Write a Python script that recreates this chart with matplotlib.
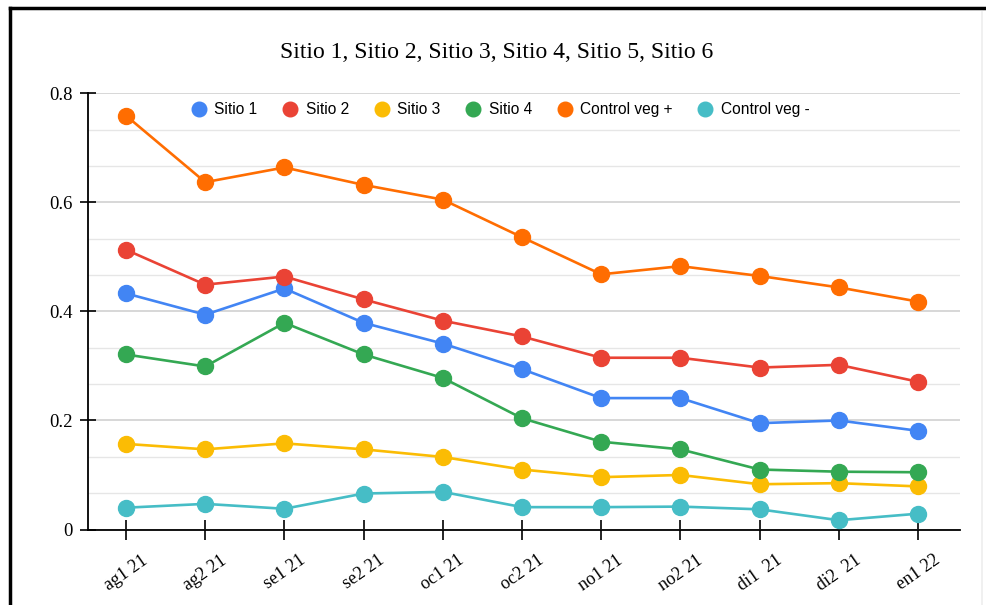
import matplotlib.pyplot as plt
import numpy as np
from matplotlib.lines import Line2D

# fechas de muestreo
fechas = ['ag1 21', 'ag2 21', 'se1 21', 'se2 21', 'oc1 21', 'oc2 21',
          'no1 21', 'no2 21', 'di1  21', 'di2  21', 'en1 22']

sitio1 = [0.433, 0.394, 0.442, 0.379, 0.341, 0.294, 0.241, 0.241, 0.195, 0.200, 0.181]
sitio2 = [0.513, 0.449, 0.464, 0.422, 0.383, 0.354, 0.315, 0.315, 0.297, 0.302, 0.271]
sitio3 = [0.157, 0.147, 0.158, 0.147, 0.133, 0.110, 0.096, 0.100, 0.083, 0.085, 0.079]
sitio4 = [0.321, 0.299, 0.379, 0.321, 0.278, 0.204, 0.161, 0.147, 0.110, 0.106, 0.105]
control_pos = [0.759, 0.637, 0.664, 0.632, 0.605, 0.536, 0.468, 0.483, 0.465, 0.444, 0.418]
control_neg = [0.040, 0.047, 0.038, 0.066, 0.069, 0.041, 0.041, 0.042, 0.037, 0.017, 0.029]

nombres = ['Sitio 1', 'Sitio 2', 'Sitio 3', 'Sitio 4', 'Control veg +', 'Control veg -']
colores = ['#4285F4', '#EA4335', '#FBBC04', '#34A853', '#FF6D01', '#46BDC6']
series = [sitio1, sitio2, sitio3, sitio4, control_pos, control_neg]

fig = plt.figure(figsize=(9.87, 6.05), dpi=100)
ax = fig.add_axes([88/987, 75.5/605, 872/987, 436.2/605])

x = np.arange(len(fechas))
# orden de dibujo: los controles primero
for i in [5, 4, 2, 3, 0, 1]:
    ax.plot(x, series[i], color=colores[i], lw=1.9, marker='o', ms=11.5,
            label=nombres[i], zorder=3)

ax.set_xlim(-0.48, 10.53)
ax.set_ylim(0, 0.8)
ax.set_yticks([0, 0.2, 0.4, 0.6, 0.8])
ax.set_yticklabels(['0', '0.2', '0.4', '0.6', '0.8'], family='Liberation Serif', fontsize=13.5)
ax.set_yticks(np.arange(0, 0.8, 0.2/3), minor=True)
ax.set_xticks(x)
ax.set_xticklabels(fechas, rotation=35, family='Liberation Serif', fontsize=13,
                   ha='center', va='top')
ax.tick_params(axis='y', which='major', direction='inout', length=12, width=1.2, pad=5)
ax.tick_params(axis='y', which='minor', length=0)
ax.tick_params(axis='x', direction='inout', length=14, width=1.2, pad=9)

ax.grid(axis='y', which='major', color='#d4d4d4', lw=1.3)
ax.grid(axis='y', which='minor', color='#e6e6e6', lw=1.0)
ax.set_axisbelow(True)
for s in ['top', 'right']:
    ax.spines[s].set_visible(False)
ax.spines['left'].set_linewidth(1.3)
ax.spines['bottom'].set_linewidth(1.3)

handles = [Line2D([], [], ls='none', marker='o', ms=10.5, color=c) for c in colores]
ax.legend(handles, nombres, loc='upper center', bbox_to_anchor=(0.472, 1.012),
          ncol=6, frameon=False, prop={'family': 'Liberation Sans', 'size': 11.2},
          handletextpad=0.4, columnspacing=1.5, handlelength=1.2)

fig.text(497/987, 1 - 53/605, 'Sitio 1, Sitio 2, Sitio 3, Sitio 4, Sitio 5, Sitio 6',
         ha='center', va='center', family='Liberation Serif', fontsize=17)

# marco de la imagen
fig.add_artist(Line2D([10/987, 10/987], [0, 1 - 8/605], color='black', lw=2.5,
                      transform=fig.transFigure))
fig.add_artist(Line2D([10/987, 1], [1 - 8/605, 1 - 8/605], color='black', lw=2.5,
                      transform=fig.transFigure))
fig.add_artist(Line2D([982/987, 982/987], [0, 1 - 12/605], color='#eeeeee', lw=1.2,
                      transform=fig.transFigure))

plt.savefig('out.png', dpi=100)
